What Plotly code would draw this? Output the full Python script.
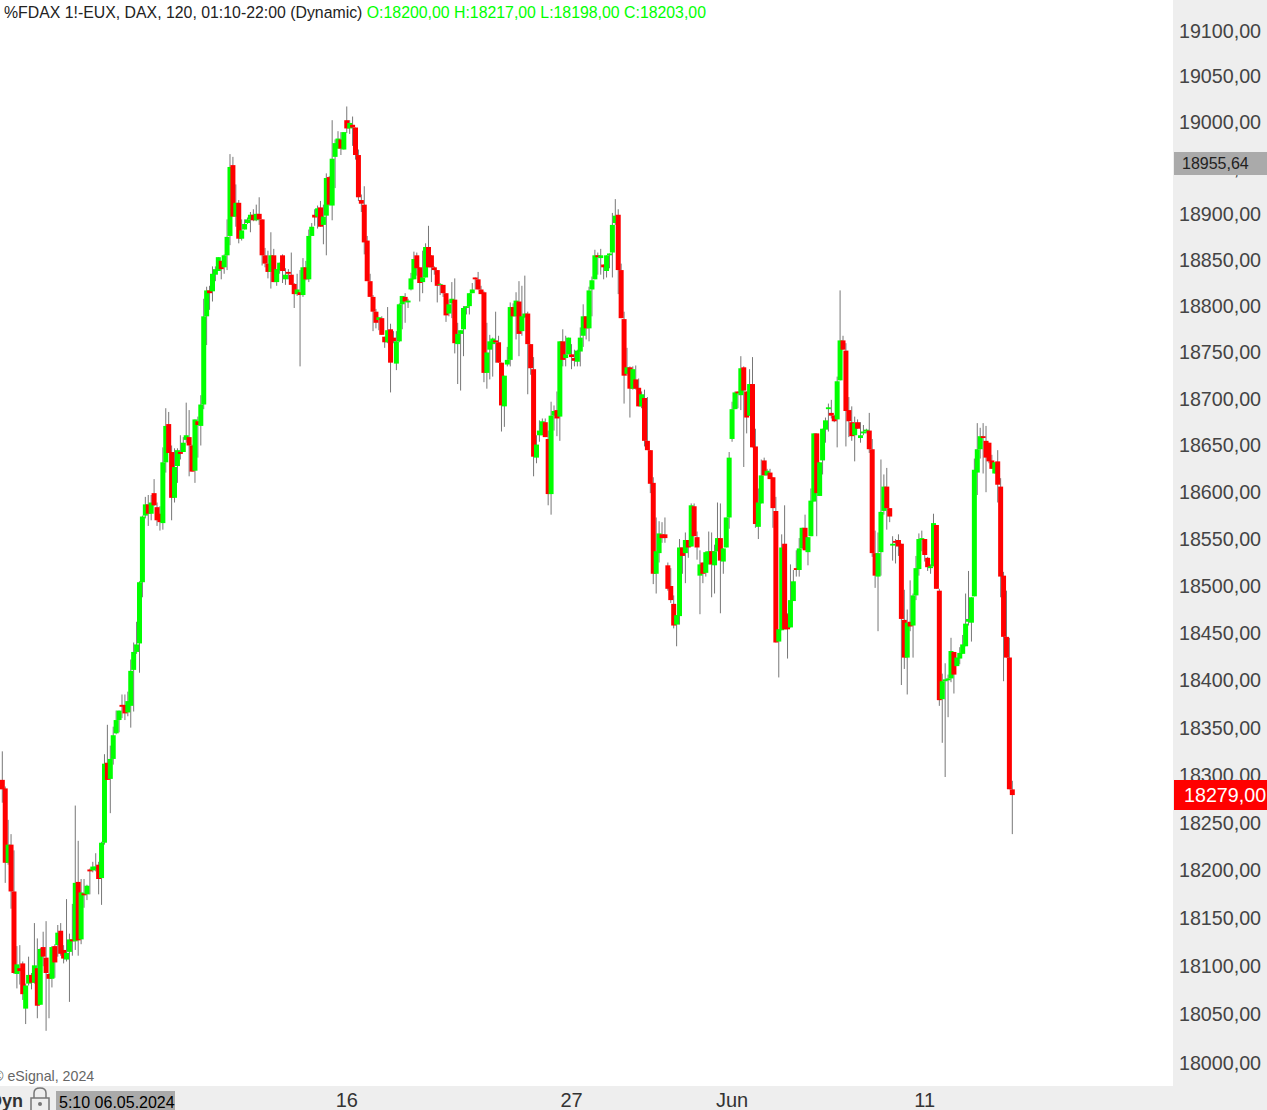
import numpy as np
import plotly.graph_objects as go
from itertools import groupby

# 2h candles, oldest first
open_ = [
    18295,18286,18208,18227,18178,18092,18098,18103,18056,18082,
    18091,18083,18098,18060,18120,18109,18092,18087,18121,18122,
    18137,18117,18107,18115,18128,18126,18188,18128,18176,18175,
    18201,18200,18201,18206,18192,18229,18313,18296,18317,18344,
    18358,18374,18374,18366,18373,18411,18430,18439,18504,18575,
    18587,18577,18599,18584,18577,18567,18632,18673,18643,18594,
    18628,18643,18643,18656,18659,18650,18623,18676,18671,18694,
    18789,18817,18816,18834,18838,18849,18842,18855,18876,18953,
    18897,18912,18873,18883,18890,18894,18899,18893,18900,18894,
    18855,18846,18837,18855,18826,18839,18855,18829,18837,18834,
    18824,18813,18815,18812,18842,18829,18876,18899,18897,18907,
    18888,18898,18940,18909,18962,18971,18981,18970,19002,18993,
    18997,18994,18964,18915,18910,18871,18827,18810,18794,18785,
    18787,18767,18761,18775,18766,18738,18762,18802,18810,18804,
    18818,18829,18855,18842,18826,18831,18864,18855,18842,18839,
    18823,18823,18814,18792,18803,18807,18759,18770,18775,18798,
    18800,18814,18831,18829,18818,18815,18728,18753,18759,18763,
    18761,18739,18692,18737,18742,18799,18789,18805,18773,18788,
    18792,18759,18732,18637,18661,18661,18675,18657,18598,18682,
    18688,18681,18762,18744,18748,18748,18744,18740,18751,18768,
    18789,18776,18818,18829,18855,18852,18845,18838,18855,18858,
    18890,18899,18839,18786,18727,18734,18711,18721,18712,18692,
    18701,18655,18645,18610,18513,18535,18555,18555,18522,18500,
    18481,18459,18468,18541,18535,18549,18542,18585,18552,18511,
    18525,18514,18523,18537,18522,18537,18551,18526,18541,18573,
    18657,18689,18708,18704,18734,18708,18682,18716,18649,18563,
    18588,18634,18618,18621,18616,18580,18441,18453,18545,18470,
    18456,18484,18519,18517,18540,18562,18536,18553,18590,18663,
    18596,18634,18667,18689,18685,18682,18678,18720,18763,18752,
    18688,18675,18661,18675,18658,18663,18665,18666,18646,18535,
    18510,18536,18580,18606,18583,18543,18548,18549,18545,18464,
    18424,18462,18458,18490,18518,18549,18550,18530,18519,18521,
    18565,18495,18380,18399,18400,18402,18430,18415,18423,18428,
    18436,18462,18461,18489,18621,18646,18660,18655,18653,18634,
    18620,18633,18606,18511,18446,18424,18285,
]
high = [
    18325,18288,18253,18238,18221,18121,18122,18105,18082,18110,
    18093,18145,18129,18119,18136,18147,18093,18121,18123,18143,
    18145,18122,18170,18134,18165,18268,18231,18191,18191,18185,
    18202,18209,18218,18209,18230,18322,18353,18331,18351,18368,
    18368,18385,18385,18388,18422,18440,18462,18505,18575,18595,
    18597,18597,18614,18589,18585,18648,18690,18686,18650,18647,
    18647,18661,18659,18696,18688,18651,18678,18681,18704,18808,
    18821,18822,18843,18843,18853,18849,18856,18894,18965,18962,
    18932,18915,18894,18894,18896,18902,18905,18910,18918,18894,
    18863,18860,18880,18862,18840,18847,18856,18841,18840,18858,
    18825,18835,18839,18852,18849,18883,18890,18905,18909,18914,
    18910,18944,18941,19002,18981,18990,18989,18989,19017,19002,
    19006,18994,18970,18921,18930,18876,18835,18812,18797,18788,
    18789,18767,18799,18781,18773,18773,18803,18811,18814,18808,
    18836,18859,18858,18842,18860,18868,18887,18855,18843,18839,
    18825,18823,18814,18807,18826,18830,18782,18774,18800,18800,
    18814,18825,18831,18837,18822,18816,18782,18769,18766,18794,
    18768,18739,18725,18756,18804,18803,18815,18827,18822,18833,
    18794,18759,18745,18661,18677,18679,18679,18666,18697,18693,
    18708,18762,18775,18768,18766,18759,18753,18753,18777,18802,
    18789,18821,18832,18861,18858,18862,18845,18855,18857,18901,
    18916,18905,18846,18794,18755,18735,18735,18736,18722,18708,
    18710,18702,18645,18616,18573,18569,18568,18573,18525,18519,
    18490,18469,18550,18541,18557,18549,18588,18588,18558,18538,
    18525,18537,18558,18557,18544,18589,18588,18540,18573,18643,
    18697,18708,18708,18746,18735,18708,18732,18745,18668,18604,
    18635,18637,18625,18625,18616,18595,18454,18555,18586,18471,
    18523,18517,18538,18551,18562,18576,18552,18604,18663,18663,
    18632,18668,18680,18695,18699,18683,18724,18817,18768,18760,
    18702,18692,18681,18678,18675,18672,18668,18685,18657,18559,
    18557,18635,18619,18626,18583,18553,18550,18555,18545,18496,
    18475,18506,18492,18532,18556,18559,18550,18531,18523,18577,
    18565,18497,18407,18418,18406,18445,18430,18424,18435,18448,
    18492,18516,18488,18636,18674,18669,18674,18671,18653,18640,
    18632,18645,18615,18515,18495,18445,18294,
]
low = [
    18271,18187,18206,18160,18092,18077,18081,18065,18040,18080,
    18076,18082,18046,18060,18100,18033,18046,18078,18088,18110,
    18111,18103,18105,18063,18111,18117,18111,18123,18161,18169,
    18175,18198,18199,18175,18164,18227,18295,18260,18311,18343,
    18345,18360,18358,18362,18350,18367,18428,18408,18488,18572,
    18564,18570,18585,18564,18559,18560,18621,18642,18570,18589,
    18610,18635,18643,18653,18617,18622,18610,18637,18650,18689,
    18758,18796,18805,18827,18838,18829,18835,18839,18866,18897,
    18886,18868,18871,18883,18889,18880,18892,18892,18888,18844,
    18842,18830,18819,18826,18822,18835,18825,18823,18829,18823,
    18798,18811,18735,18810,18828,18826,18876,18887,18884,18886,
    18867,18855,18909,18893,18928,18971,18964,18970,18988,18987,
    18974,18959,18914,18902,18856,18827,18810,18773,18776,18774,
    18769,18755,18760,18707,18760,18731,18761,18775,18782,18798,
    18817,18829,18833,18805,18814,18831,18842,18826,18834,18804,
    18812,18810,18783,18789,18787,18749,18716,18709,18746,18791,
    18791,18814,18818,18818,18813,18718,18711,18721,18724,18739,
    18739,18665,18670,18735,18735,18789,18764,18746,18768,18787,
    18705,18726,18617,18631,18654,18661,18659,18586,18576,18666,
    18660,18655,18735,18735,18748,18732,18735,18735,18735,18756,
    18764,18762,18789,18829,18834,18834,18829,18831,18841,18831,
    18888,18813,18787,18695,18725,18680,18710,18710,18692,18690,
    18649,18645,18599,18502,18492,18525,18546,18546,18495,18482,
    18455,18436,18459,18513,18503,18530,18542,18553,18528,18470,
    18503,18510,18523,18488,18492,18537,18471,18513,18541,18561,
    18654,18689,18690,18688,18627,18663,18682,18648,18562,18550,
    18588,18618,18618,18614,18562,18440,18403,18453,18454,18423,
    18456,18484,18510,18510,18540,18538,18522,18553,18590,18553,
    18596,18619,18653,18665,18679,18675,18648,18720,18753,18649,
    18659,18655,18633,18668,18653,18661,18663,18642,18531,18498,
    18452,18511,18576,18560,18568,18527,18524,18532,18395,18412,
    18385,18452,18424,18485,18511,18537,18526,18516,18513,18521,
    18497,18373,18334,18298,18361,18398,18386,18415,18417,18428,
    18436,18458,18441,18489,18597,18636,18620,18600,18631,18625,
    18620,18589,18488,18399,18424,18285,18238,
]
close = [
    18285,18208,18227,18178,18093,18102,18095,18071,18080,18091,
    18083,18101,18059,18118,18110,18093,18087,18120,18104,18135,
    18113,18108,18114,18128,18126,18187,18127,18177,18174,18184,
    18199,18204,18204,18191,18229,18312,18295,18317,18342,18358,
    18368,18372,18365,18378,18410,18430,18438,18504,18574,18587,
    18577,18589,18586,18570,18568,18632,18671,18642,18594,18627,
    18645,18641,18653,18661,18650,18622,18678,18672,18694,18789,
    18817,18814,18835,18840,18853,18840,18855,18875,18951,18897,
    18912,18873,18882,18889,18894,18899,18893,18900,18894,18855,
    18846,18837,18855,18826,18840,18847,18838,18834,18835,18823,
    18813,18818,18812,18842,18829,18876,18886,18896,18906,18886,
    18897,18939,18910,18960,18977,18982,18971,18989,18993,18999,
    18994,18964,18918,18911,18869,18827,18810,18794,18782,18788,
    18769,18761,18774,18739,18762,18762,18802,18811,18805,18806,
    18830,18851,18841,18825,18831,18864,18842,18842,18839,18822,
    18824,18814,18790,18802,18808,18760,18770,18774,18798,18800,
    18814,18818,18829,18818,18813,18728,18750,18762,18765,18761,
    18739,18693,18725,18742,18799,18789,18806,18770,18789,18792,
    18759,18733,18638,18651,18666,18676,18659,18598,18682,18687,
    18679,18762,18742,18748,18766,18745,18741,18752,18766,18789,
    18776,18817,18828,18855,18853,18855,18842,18855,18857,18888,
    18898,18839,18787,18725,18734,18711,18732,18711,18692,18705,
    18655,18645,18609,18513,18537,18556,18551,18551,18497,18485,
    18458,18469,18541,18532,18549,18541,18586,18553,18541,18523,
    18513,18536,18537,18523,18537,18551,18527,18540,18573,18637,
    18689,18707,18706,18733,18709,18680,18716,18648,18566,18589,
    18618,18618,18623,18614,18583,18440,18454,18541,18454,18454,
    18485,18505,18517,18540,18562,18538,18552,18591,18663,18599,
    18632,18668,18677,18691,18682,18676,18719,18763,18753,18687,
    18676,18660,18674,18668,18661,18665,18667,18646,18535,18511,
    18535,18579,18606,18583,18574,18545,18546,18542,18465,18424,
    18461,18457,18490,18519,18550,18551,18533,18520,18521,18567,
    18497,18379,18399,18401,18402,18431,18406,18424,18429,18438,
    18460,18465,18488,18624,18646,18660,18658,18637,18633,18625,
    18632,18608,18510,18446,18424,18285,18279,
]

price_ticks = list(range(18000, 19101, 50))
price_labels = [f"{p},00" for p in price_ticks]
date_ticks = [118, 195, 250, 316]
date_labels = ["16", "27", "Jun", "11"]

GREEN = "#00FF00"
RED = "#FF0000"
PANEL = "#EEEEEE"

W, H = 1267, 1110
PLOT_W, PLOT_H = 1173, 1086


def px(x):
    return x / PLOT_W


def py(y):
    return (PLOT_H - y) / PLOT_H


fig = go.Figure()

# wicks go underneath all the bodies
wick_x, wick_y = [], []
for i in range(len(close)):
    wick_x += [i, i, None]
    wick_y += [low[i], high[i], None]
fig.add_trace(go.Scatter(x=wick_x, y=wick_y, mode="lines",
                         line=dict(color="#777777", width=1), hoverinfo="skip"))

# bodies, one trace per run of same colour so later candles stay on top
colours = [GREEN if close[i] >= open_[i] else RED for i in range(len(close))]
for colour, run in groupby(range(len(close)), key=lambda i: colours[i]):
    xs, ys = [], []
    for i in run:
        xs += [i, i, None]
        ys += [open_[i], close[i], None]
    fig.add_trace(go.Scatter(x=xs, y=ys, mode="lines",
                             line=dict(color=colour, width=5), hoverinfo="skip"))


def label(text, x, y, size, colour, **kw):
    fig.add_annotation(text=text, x=px(x), y=py(y), xref="paper", yref="paper",
                       showarrow=False, xanchor=kw.pop("xanchor", "left"), yanchor="middle",
                       font=dict(family="Liberation Sans", size=size, color=colour), borderpad=0, **kw)


def box(x0, y0, x1, y1, colour):
    fig.add_shape(type="rect", xref="paper", yref="paper", x0=px(x0), x1=px(x1), y0=py(y0), y1=py(y1),
                  fillcolor=colour, line=dict(width=0), layer="above")


# header
label('%FDAX 1!-EUX, DAX, 120, 01:10-22:00 (Dynamic) <span style="color:#00FF00">'
      f'O:18200,00 H:18217,00 L:18198,00 C:18203,00</span>', 3, 12.5, 15.85, "#222222")
label("© eSignal, 2024", -8, 1076, 14.2, "#666666")

# bottom strip bits
label("<b>Dyn</b>", 24, 1101, 18, "#333333", xanchor="right")
box(56, 1091, 175, 1112, "#AAAAAA")
label("5:10 06.05.2024", 58, 1102, 16, "#000000")

# price flags on the right
box(1174, 152, W, 175, "#AAAAAA")
label("18955,64", 1181, 163.5, 16, "#222222")
box(1174, 780, W, 810, RED)
label(f"{close[-1]},00", 1183, 795, 19.7, "#FFFFFF")

# lock icon
lock = dict(type="path", xref="paper", yref="paper", line=dict(color="#777777", width=1.5))
fig.add_shape(**lock, path=f"M {px(34)} {py(1098)} L {px(34)} {py(1093)} Q {px(34)} {py(1088)} {px(40)} {py(1088)} "
                           f"Q {px(46)} {py(1088)} {px(46)} {py(1093)} L {px(46)} {py(1098)}")
fig.add_shape(**lock, path=f"M {px(31)} {py(1098)} L {px(49)} {py(1098)} L {px(49)} {py(1112)} L {px(31)} {py(1112)} Z")
fig.add_shape(type="circle", xref="paper", yref="paper", x0=px(38), x1=px(42), y0=py(1106), y1=py(1102),
              fillcolor="#777777", line=dict(width=0))

fig.update_layout(
    width=W, height=H, autosize=False,
    margin=dict(l=0, r=W - PLOT_W, t=0, b=H - PLOT_H),
    paper_bgcolor=PANEL, plot_bgcolor="#FFFFFF",
    showlegend=False, hovermode=False,
    xaxis=dict(range=[-0.79, 401.05], showgrid=False, zeroline=False, showline=False, automargin=False,
               tickmode="array", tickvals=date_ticks, ticktext=date_labels,
               ticks="", ticklen=0,
               tickfont=dict(family="Liberation Sans", size=20, color="#333333")),
    yaxis=dict(type="log", side="right", range=[4.25469, 4.28180], showgrid=False, zeroline=False,
               showline=False, automargin=False, tickmode="array", tickvals=price_ticks, ticktext=price_labels,
               ticks="outside", ticklen=1, tickcolor=PANEL,
               tickfont=dict(family="Liberation Sans", size=19.7, color="#444444")),
)

fig.write_html("out.html", config=dict(displayModeBar=False),
               post_script="document.body.style.margin='0';document.body.style.overflow='hidden';")
